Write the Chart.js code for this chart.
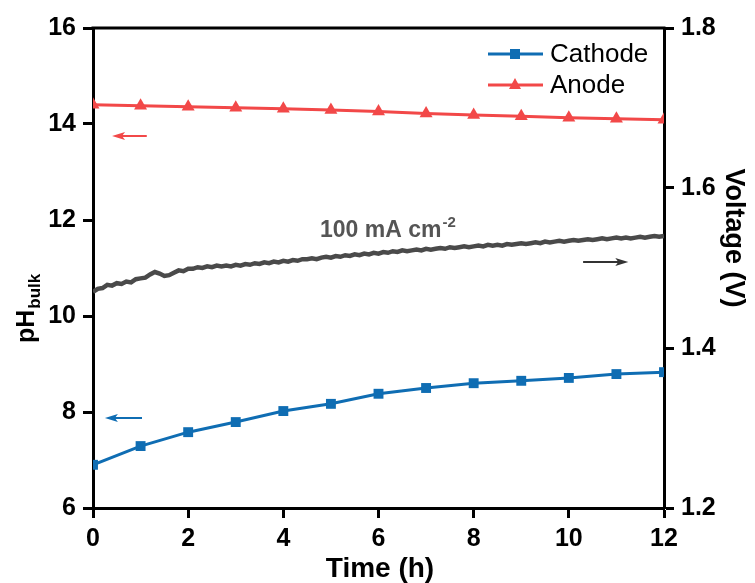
<!DOCTYPE html>
<html>
<head>
<meta charset="utf-8">
<script src="https://cdn.jsdelivr.net/npm/chart.js@4.4.0/dist/chart.umd.min.js"></script>
<style>
html, body { margin: 0; padding: 0; background: #fff; }
</style>
</head>
<body>
<canvas id="chart" width="755" height="583"></canvas>
<script>
const hours = [0, 1, 2, 3, 4, 5, 6, 7, 8, 9, 10, 11, 12];
const cathodePH = [6.90, 7.29, 7.58, 7.79, 8.02, 8.17, 8.38, 8.50, 8.60, 8.65, 8.71, 8.79, 8.83];
const anodePH = [14.40, 14.38, 14.36, 14.34, 14.32, 14.29, 14.26, 14.22, 14.19, 14.16, 14.13, 14.11, 14.09];
// voltage logged every 0.1 h
const voltage = [
    1.470, 1.474, 1.475, 1.479, 1.478, 1.481, 1.480, 1.483, 1.482, 1.486,
    1.487, 1.488, 1.492, 1.495, 1.493, 1.490, 1.491, 1.494, 1.497, 1.496,
    1.499, 1.499, 1.501, 1.500, 1.502, 1.501, 1.503, 1.502, 1.503, 1.502,
    1.504, 1.503, 1.505, 1.504, 1.506, 1.505, 1.507, 1.506, 1.508, 1.507,
    1.509, 1.508, 1.510, 1.509, 1.511, 1.511, 1.512, 1.511, 1.513, 1.514,
    1.513, 1.515, 1.514, 1.516, 1.515, 1.517, 1.516, 1.518, 1.517, 1.519,
    1.518, 1.520, 1.519, 1.521, 1.520, 1.522, 1.521, 1.522, 1.523, 1.522,
    1.524, 1.523, 1.524, 1.525, 1.524, 1.526, 1.525, 1.526, 1.527, 1.526,
    1.527, 1.528, 1.527, 1.529, 1.528, 1.529, 1.528, 1.530, 1.529, 1.530,
    1.531, 1.530, 1.531, 1.532, 1.531, 1.533, 1.532, 1.533, 1.534, 1.533,
    1.534, 1.535, 1.534, 1.535, 1.536, 1.535, 1.536, 1.537, 1.536, 1.537,
    1.538, 1.537, 1.538, 1.537, 1.538, 1.539, 1.538, 1.539, 1.540, 1.539,
    1.540
];
const seriesNames = ["Cathode", "Anode"];
const currentLabel = "100 mA cm";
const currentExp = "-2";

const BLUE = "#0f6db3";
const RED = "#f24848";
const GREY = "#4a4a4a";
const FONT = "Arial, 'Liberation Sans', sans-serif";

function arrow(ctx, x1, y1, x2, y2, color) {
    // line from (x1,y1) with head at (x2,y2)
    const dir = Math.sign(x2 - x1);
    ctx.strokeStyle = color;
    ctx.fillStyle = color;
    ctx.lineWidth = 2;
    ctx.beginPath();
    ctx.moveTo(x1, y1);
    ctx.lineTo(x2 - dir * 8, y2);
    ctx.stroke();
    ctx.beginPath();
    ctx.moveTo(x2, y2);
    ctx.lineTo(x2 - dir * 13, y2 - 4);
    ctx.lineTo(x2 - dir * 10, y2);
    ctx.lineTo(x2 - dir * 13, y2 + 4);
    ctx.closePath();
    ctx.fill();
}

const extras = {
    id: "extras",
    afterDraw(chart) {
        const { ctx, chartArea: a, scales } = chart;
        const x = scales.x, y = scales.y, y1 = scales.y1;
        ctx.save();

        // top frame
        ctx.strokeStyle = "#000";
        ctx.lineWidth = 3;
        ctx.beginPath();
        ctx.moveTo(a.left - 1.5, a.top);
        ctx.lineTo(a.right + 1.5, a.top);
        ctx.stroke();

        // axis arrows
        arrow(ctx, x.getPixelForValue(1.13), y.getPixelForValue(13.75), x.getPixelForValue(0.4), y.getPixelForValue(13.75), RED);
        arrow(ctx, x.getPixelForValue(1.03), y.getPixelForValue(7.875), x.getPixelForValue(0.25), y.getPixelForValue(7.875), BLUE);
        arrow(ctx, x.getPixelForValue(10.3), y1.getPixelForValue(1.5075), x.getPixelForValue(11.25), y1.getPixelForValue(1.5075), "#333");

        // current density label
        ctx.fillStyle = "#555";
        ctx.textAlign = "left";
        ctx.textBaseline = "alphabetic";
        ctx.font = "bold 23px " + FONT;
        ctx.fillText(currentLabel, 320, 237);
        const w = ctx.measureText(currentLabel).width;
        ctx.font = "bold 15px " + FONT;
        ctx.fillText(currentExp, 320 + w + 1, 227);

        // legend
        const items = [
            { name: seriesNames[0], color: BLUE, shape: "rect", yy: 54 },
            { name: seriesNames[1], color: RED, shape: "tri", yy: 85 }
        ];
        items.forEach(it => {
            ctx.strokeStyle = it.color;
            ctx.fillStyle = it.color;
            ctx.lineWidth = 3;
            ctx.beginPath();
            ctx.moveTo(488, it.yy);
            ctx.lineTo(543, it.yy);
            ctx.stroke();
            ctx.beginPath();
            if (it.shape === "rect") {
                ctx.rect(510, it.yy - 5, 10, 10);
            } else {
                ctx.moveTo(515, it.yy - 7);
                ctx.lineTo(521, it.yy + 4);
                ctx.lineTo(509, it.yy + 4);
                ctx.closePath();
            }
            ctx.fill();
            ctx.fillStyle = "#000";
            ctx.font = "26px " + FONT;
            ctx.textBaseline = "middle";
            ctx.fillText(it.name, 550, it.yy + 1);
        });

        // axis titles
        ctx.fillStyle = "#000";
        ctx.textBaseline = "alphabetic";
        ctx.font = "bold 28px " + FONT;
        ctx.textAlign = "center";
        ctx.fillText("Time (h)", 380, 577);

        ctx.save();
        ctx.translate(34, 343);
        ctx.rotate(-Math.PI / 2);
        ctx.textAlign = "left";
        ctx.font = "bold 25px " + FONT;
        ctx.fillText("pH", 0, 0);
        const pw = ctx.measureText("pH").width;
        ctx.font = "bold 17px " + FONT;
        ctx.fillText("bulk", pw + 1, 6);
        ctx.restore();

        ctx.save();
        ctx.translate(726, 238);
        ctx.rotate(Math.PI / 2);
        ctx.textAlign = "center";
        ctx.font = "bold 27px " + FONT;
        ctx.fillText("Voltage (V)", 0, 0);
        ctx.restore();

        ctx.restore();
    }
};

const tickFont = { family: FONT, size: 25, weight: "bold" };
const axisGrid = { drawOnChartArea: false, drawTicks: true, tickLength: 10, tickWidth: 3, tickColor: "#000" };
const axisBorder = { display: true, width: 3, color: "#000" };

new Chart(document.getElementById("chart"), {
    type: "line",
    data: {
        datasets: [
            {
                label: seriesNames[0],
                data: hours.map((h, i) => ({ x: h, y: cathodePH[i] })),
                borderColor: BLUE,
                backgroundColor: BLUE,
                borderWidth: 3,
                pointStyle: "rect",
                pointRadius: 7,
                pointBorderWidth: 0,
                yAxisID: "y"
            },
            {
                label: seriesNames[1],
                data: hours.map((h, i) => ({ x: h, y: anodePH[i] })),
                borderColor: RED,
                backgroundColor: RED,
                borderWidth: 3,
                pointStyle: "triangle",
                pointRadius: 7.5,
                pointBorderWidth: 0,
                yAxisID: "y"
            },
            {
                label: "Voltage",
                data: voltage.map((v, i) => ({ x: i * 0.1, y: v })),
                borderColor: GREY,
                borderWidth: 4.5,
                pointRadius: 0,
                yAxisID: "y1"
            }
        ]
    },
    options: {
        responsive: false,
        animation: false,
        devicePixelRatio: 1,
        layout: { padding: { top: 28, left: 0, right: 0, bottom: 0 } },
        plugins: {
            legend: { display: false },
            tooltip: { enabled: false }
        },
        scales: {
            x: {
                type: "linear",
                min: 0,
                max: 12,
                ticks: { stepSize: 2, font: tickFont, color: "#000", padding: 6 },
                grid: axisGrid,
                border: axisBorder,
                afterFit: s => { s.height = 75; }
            },
            y: {
                position: "left",
                min: 6,
                max: 16,
                ticks: { stepSize: 2, font: tickFont, color: "#000", padding: 7 },
                grid: axisGrid,
                border: axisBorder,
                afterFit: s => { s.width = 93; }
            },
            y1: {
                position: "right",
                min: 1.2,
                max: 1.8,
                ticks: { stepSize: 0.2, font: tickFont, color: "#000", padding: 7, callback: v => v.toFixed(1) },
                grid: axisGrid,
                border: axisBorder,
                afterFit: s => { s.width = 91; }
            }
        }
    },
    plugins: [extras]
});
</script>
</body>
</html>
